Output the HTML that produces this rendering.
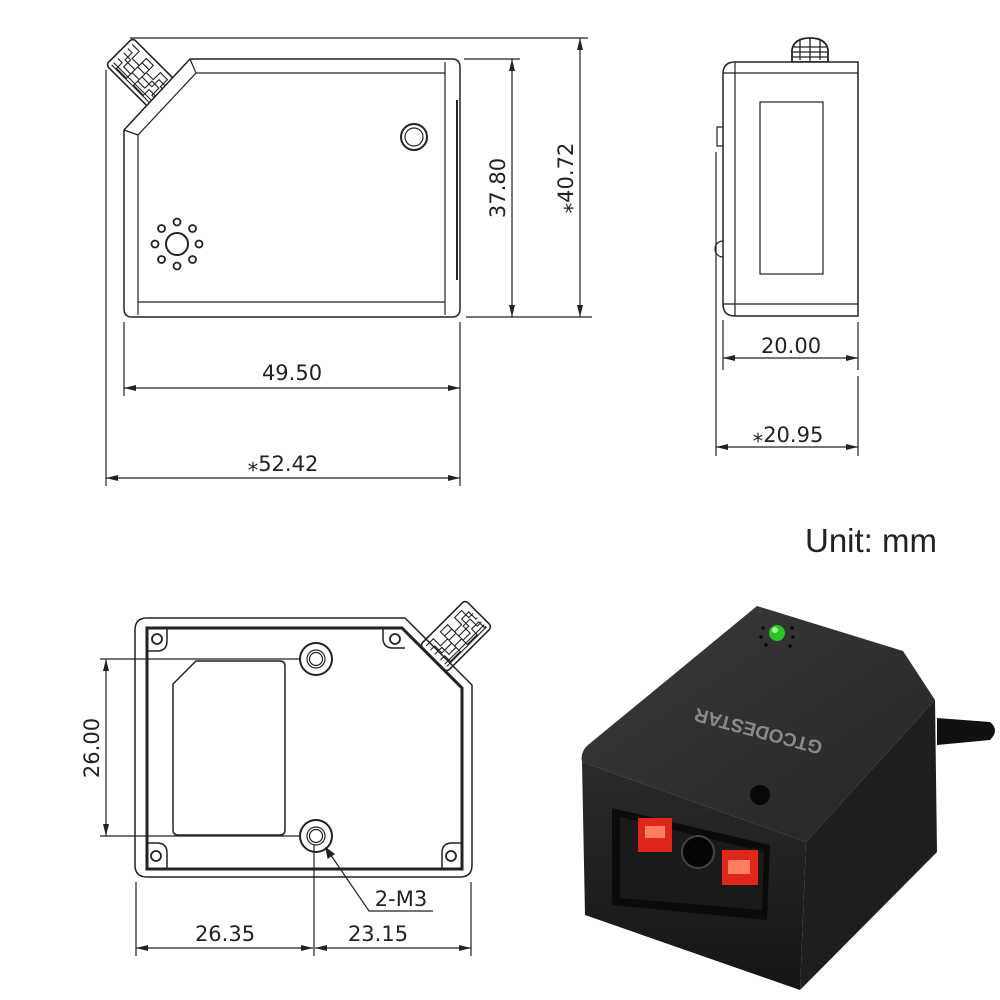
<!DOCTYPE html>
<html><head><meta charset="utf-8"><style>
html,body{margin:0;padding:0;background:#fff;}
svg{display:block;}
text{font-family:"DejaVu Sans","Liberation Sans",sans-serif;fill:#222;}
</style></head><body>
<svg width="1000" height="1000" viewBox="0 0 1000 1000" xmlns="http://www.w3.org/2000/svg">
<defs>
<marker id="a" viewBox="0 0 12 6" refX="12" refY="3" markerWidth="12" markerHeight="6" orient="auto-start-reverse" markerUnits="userSpaceOnUse"><path d="M0,0 L12,3 L0,6 z" fill="#222"/></marker>
<g id="conn">
<rect x="-32" y="-19" width="64" height="38" rx="4" fill="#fff" stroke="#222" stroke-width="1.6"/>
<path d="M-28,-14 h10 v10 h10 v-10 h10 v10 h10 v-10 h10 v10 h6 M-28,-8 h6 v10 h14 v-10 h10 v10 h14 v-10 h10 v10 h2 M-28,-2 h10 v10 h10 v-10 h10 v10 h10 v-10 h10 v10 h6 M-28,6 h6 v8 h14 v-8 h10 v8 h14 v-8 h10 v8 h2 M-28,12 h56 M-28,15 h56" fill="none" stroke="#222" stroke-width="1.1"/>
</g>
</defs>
<g fill="none" stroke="#222" stroke-width="1.2">
<!-- TOP VIEW -->
<use href="#conn" transform="translate(142,74) rotate(45)"/>
<path d="M190,59 L452,59 Q460,59 460,67 L460,309 Q460,317 452,317 L132,317 Q124,317 124,309 L124,130 Z" fill="#fff" stroke-width="1.5"/>
<path d="M196,73 L445,73 M445,62 L445,315 M138,135 L138,315 M138,302 L445,302 M124,130 L138,135 L196,73 L190,59"/>
<line x1="457" y1="100" x2="457" y2="280" stroke-width="2"/>
<circle cx="414" cy="137" r="13" stroke-width="2"/><circle cx="414" cy="137" r="9"/>
<circle cx="177" cy="244" r="11" stroke-width="2"/>
<g stroke-width="1.8">
<circle cx="177" cy="222" r="3.5"/><circle cx="177" cy="266" r="3.5"/><circle cx="155" cy="244" r="3.5"/><circle cx="199" cy="244" r="3.5"/>
<circle cx="161.5" cy="228.5" r="3.5"/><circle cx="192.5" cy="228.5" r="3.5"/><circle cx="161.5" cy="259.5" r="3.5"/><circle cx="192.5" cy="259.5" r="3.5"/></g>
<!-- top view dims -->
<line x1="130" y1="38" x2="588" y2="38"/>
<line x1="464" y1="59" x2="520" y2="59"/>
<line x1="466" y1="317" x2="592" y2="317"/>
<line x1="512" y1="59" x2="512" y2="317" marker-start="url(#a)" marker-end="url(#a)"/>
<line x1="580" y1="38" x2="580" y2="317" marker-start="url(#a)" marker-end="url(#a)"/>
<line x1="106" y1="70" x2="106" y2="486"/>
<line x1="124" y1="322" x2="124" y2="396"/>
<line x1="460" y1="322" x2="460" y2="486"/>
<line x1="124" y1="388" x2="460" y2="388" marker-start="url(#a)" marker-end="url(#a)"/>
<line x1="106" y1="478" x2="460" y2="478" marker-start="url(#a)" marker-end="url(#a)"/>

<!-- SIDE VIEW -->
<path d="M792,62 L792,50 Q794,38 810,38 Q826,38 828,50 L828,62 Z" fill="#fff" stroke-width="1.8"/>
<path d="M794,47 h32 M793,52 h34 M793,57 h34 M800,40 v20 M810,38 v24 M820,40 v20" stroke-width="1.3"/>
<path d="M735,62 L858,62 L858,316 L735,316 Q723,316 723,304 L723,74 Q723,62 735,62 Z" fill="#fff" stroke-width="1.5"/>
<path d="M735,62 L735,316 M723,73 L858,73 M723,304 L858,304"/>
<rect x="760" y="102" width="63" height="172"/>
<path d="M723,127 h-6 v19 h6"/>
<path d="M723,241 a8,8 0 0 0 0,16"/>
<line x1="716" y1="152" x2="716" y2="456"/>
<line x1="858" y1="322" x2="858" y2="370"/>
<line x1="858" y1="376" x2="858" y2="456"/>
<line x1="723" y1="320" x2="723" y2="370"/>
<line x1="723" y1="358" x2="858" y2="358" marker-start="url(#a)" marker-end="url(#a)"/>
<line x1="716" y1="447" x2="858" y2="447" marker-start="url(#a)" marker-end="url(#a)"/>

<!-- BOTTOM VIEW -->
<use href="#conn" transform="translate(456,636) rotate(-45)"/>
<path d="M147,618 L405,618 L472,685 L472,865 Q472,877 460,877 L147,877 Q135,877 135,865 L135,630 Q135,618 147,618 Z" stroke-width="1.5"/>
<path d="M147,628 L402,628 L462,688 L462,869 L147,869 Z" stroke-width="3"/>
<path d="M147,651 h10 q10,0 10,-10 v-13 M147,843 h10 q10,0 10,10 v16 M383,628 v10 q0,10 10,10 h12 M462,843 h-10 q-10,0 -10,10 v16" stroke-width="1.5"/>
<circle cx="157" cy="639" r="5" stroke-width="1.8"/><circle cx="395" cy="639" r="5" stroke-width="1.8"/>
<circle cx="156" cy="856" r="5" stroke-width="1.8"/><circle cx="451" cy="856" r="5" stroke-width="1.8"/>
<circle cx="316" cy="659" r="16" stroke-width="2"/><circle cx="316" cy="659" r="9"/><circle cx="316" cy="659" r="6.5"/>
<circle cx="316" cy="836" r="16" stroke-width="2"/><circle cx="316" cy="836" r="9"/><circle cx="316" cy="836" r="6.5"/>
<path d="M196,661 L280,661 Q285,661 285,666 L285,830 Q285,835 280,835 L178,835 Q173,835 173,830 L173,684 Z" stroke-width="1.5"/>
<line x1="100" y1="659" x2="300" y2="659"/>
<line x1="100" y1="836" x2="300" y2="836"/>
<line x1="106" y1="659" x2="106" y2="836" marker-start="url(#a)" marker-end="url(#a)"/>
<line x1="136" y1="882" x2="136" y2="956"/>
<line x1="314" y1="845" x2="314" y2="956"/>
<line x1="471" y1="882" x2="471" y2="956"/>
<line x1="136" y1="948" x2="313" y2="948" marker-start="url(#a)" marker-end="url(#a)"/>
<line x1="315" y1="948" x2="471" y2="948" marker-start="url(#a)" marker-end="url(#a)"/>
<polyline points="433,911 369,911 326,848"/>
<path d="M326,848 l2,10 l6,-4 z" fill="#222"/>
</g>

<!-- text -->
<g font-size="21">
<text x="292" y="380" text-anchor="middle">49.50</text>
<text x="283" y="471" text-anchor="middle">⁎52.42</text>
<text transform="translate(505,188) rotate(-90)" text-anchor="middle">37.80</text>
<text transform="translate(573,178) rotate(-90)" text-anchor="middle">⁎40.72</text>
<text x="791" y="353" text-anchor="middle">20.00</text>
<text x="788" y="442" text-anchor="middle">⁎20.95</text>
<text transform="translate(99,748) rotate(-90)" text-anchor="middle">26.00</text>
<text x="225" y="941" text-anchor="middle">26.35</text>
<text x="378" y="941" text-anchor="middle">23.15</text>
<text x="401" y="906" text-anchor="middle">2-M3</text>
</g>
<text x="805" y="552" font-size="33" style="font-family:'Liberation Sans',sans-serif" fill="#222">Unit: mm</text>

<!-- PHOTO -->
<defs>
<linearGradient id="tg" x1="0" y1="0" x2="1" y2="1"><stop offset="0" stop-color="#3a3a3a"/><stop offset="1" stop-color="#262626"/></linearGradient>
<linearGradient id="fg" x1="0" y1="0" x2="0" y2="1"><stop offset="0" stop-color="#2a2a2a"/><stop offset="1" stop-color="#151515"/></linearGradient>
</defs>
<path d="M937,718 L990,722 Q1000,730 990,740 L937,745 Z" fill="#111"/>
<path d="M757,606 L903,651 L935,700 L806,842 L582,762 Q580,752 588,745 Z" fill="url(#tg)"/>
<path d="M582,762 L806,842 L800,990 L585,915 Z" fill="url(#fg)"/>
<path d="M806,842 L935,700 L937,852 L800,990 Z" fill="#1e1e1e"/>
<path d="M612,808 L770,845 L767,920 L612,905 Z" fill="#0b0b0b"/>
<path d="M620,817 L764,852 L762,910 L620,898 Z" fill="#1a1a1a"/>
<rect x="638" y="818" width="34" height="34" fill="#e0261a"/>
<rect x="722" y="850" width="36" height="35" fill="#e0261a"/>
<rect x="645" y="826" width="20" height="12" fill="#ff8060"/>
<rect x="728" y="860" width="22" height="14" fill="#ff8060"/>
<circle cx="698" cy="852" r="16" fill="#050505" stroke="#444" stroke-width="2"/>
<circle cx="760" cy="795" r="10" fill="#080808"/>
<circle cx="777" cy="633" r="8" fill="#29c42a"/>
<circle cx="775" cy="630" r="3" fill="#a0ff90"/>
<g fill="#0b0b0b"><circle cx="761" cy="637" r="1.8"/><circle cx="766" cy="645" r="1.8"/><circle cx="793" cy="637" r="1.8"/><circle cx="790" cy="646" r="1.8"/><circle cx="763" cy="628" r="1.8"/><circle cx="792" cy="628" r="1.8"/></g>
<text transform="translate(760,725) rotate(195)" text-anchor="middle" font-size="19" font-weight="bold" style="font-family:'Liberation Sans',sans-serif;fill:#8a8a8a">GTCODESTAR</text>
</svg>
</body></html>
